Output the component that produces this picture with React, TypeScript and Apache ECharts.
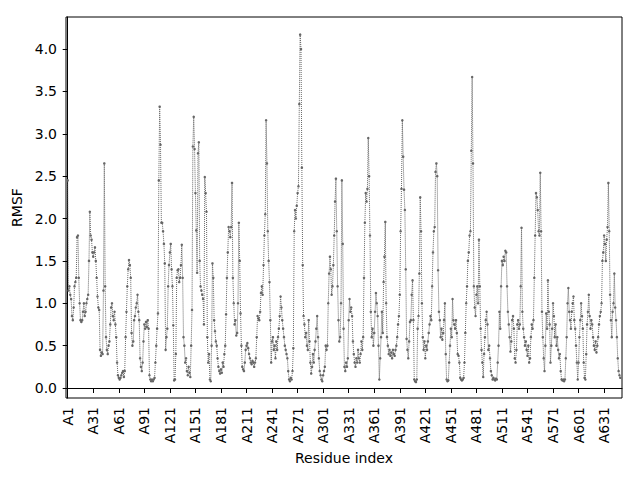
import React, { useEffect, useRef } from "react";
import * as echarts from "echarts";

// RMSF per residue (residues A1..A650)
const rmsfA1to130 = [
  2.45, 1.15, 1.2, 1.1, 1.05, 0.85, 0.8, 0.95, 1.2, 1.25,
  1.3, 1.78, 1.8, 1.3, 1.0, 0.8, 0.78, 0.8, 0.9, 1.0,
  0.85, 0.9, 1.0, 1.05, 1.1, 1.5, 2.08, 1.8, 1.75, 1.6,
  1.55, 1.6, 1.66, 1.5, 1.3, 1.08, 0.95, 0.92, 0.45, 0.38,
  0.42, 0.4, 1.15, 2.65, 1.2, 0.6, 0.45, 0.4, 0.5, 0.55,
  0.75, 0.95, 1.0, 0.85, 0.8, 0.9, 0.75, 0.6, 0.3, 0.15,
  0.12, 0.1, 0.12, 0.15, 0.18, 0.2, 0.13, 0.2, 0.6, 0.9,
  1.2, 1.4, 1.51, 1.45, 1.3, 0.65, 0.5, 0.55, 0.8, 0.85,
  0.95, 1.0, 1.1, 0.9, 0.8, 0.35, 0.25, 0.2, 0.3, 0.55,
  0.75, 0.7, 0.78, 0.72, 0.8, 0.7, 0.15, 0.1, 0.08, 0.1,
  0.08, 0.1, 0.12, 0.3, 0.5, 0.7, 0.88, 2.45, 3.32, 2.87,
  1.95, 1.95, 1.85, 1.7, 1.47, 0.45, 0.6, 0.7, 1.2, 1.45,
  1.6, 1.7, 1.4, 1.2, 0.74, 0.09, 0.1, 0.4, 1.3, 1.39,
];
const rmsfA131to260 = [
  1.4, 1.25, 1.3, 1.45, 1.69, 1.3, 0.6, 0.5, 0.3, 0.35,
  0.2, 0.15, 0.25, 0.18, 0.13, 0.5, 0.92, 2.85, 3.2, 2.82,
  2.3, 1.86, 1.36, 2.77, 2.9, 1.5, 1.2, 1.15, 1.1, 1.05,
  0.75, 2.49, 2.3, 2.08, 0.6, 0.3, 0.4, 0.1, 0.08, 0.5,
  1.47, 1.3, 0.8, 0.67, 0.55, 0.5, 0.35, 0.25, 0.2, 0.17,
  0.22, 0.18, 0.3, 0.25, 0.4, 0.5, 0.87, 1.3, 1.6, 1.9,
  1.85, 1.78, 1.9, 2.42, 1.3, 1.0, 0.75, 0.8, 0.62, 0.65,
  1.0, 1.95, 1.5, 0.88, 0.5, 0.25, 0.22, 0.2, 0.3, 0.45,
  0.5, 0.53, 0.47, 0.4, 0.35, 0.3, 0.28, 0.32, 0.3, 0.25,
  0.3, 0.35, 0.6, 0.85, 0.82, 0.8, 0.9, 1.12, 1.2, 1.1,
  1.45, 1.8, 2.05, 3.16, 2.65, 1.85, 1.5, 1.25, 0.8, 0.3,
  0.55, 0.6, 0.45, 0.5, 0.35, 0.55, 0.45, 0.6, 0.7, 0.85,
  1.08, 0.95, 0.8, 0.7, 0.6, 0.5, 0.45, 0.4, 0.35, 0.2,
];
const rmsfA261to390 = [
  0.1, 0.08, 0.12, 0.1, 0.2, 0.47, 1.85, 2.1, 2.0, 2.15,
  2.3, 2.38, 3.35, 4.17, 4.0, 2.6, 1.45, 0.85, 0.75, 0.6,
  0.65, 0.5, 0.45, 0.8, 0.55, 0.3, 0.17, 0.25, 0.4, 0.3,
  0.45, 0.55, 0.7, 0.85, 0.6, 0.35, 0.2, 0.15, 0.1, 0.08,
  0.15, 0.2, 0.25, 0.5, 0.45, 0.5, 1.0, 1.35, 1.55, 1.4,
  1.1, 1.2, 1.45, 1.8, 2.2, 2.47, 1.85, 1.2, 0.8, 0.55,
  0.6, 1.0, 2.45, 1.7, 0.7, 0.25, 0.2, 0.3, 0.25, 0.35,
  0.8, 1.05, 0.9, 0.95, 0.85, 0.55, 0.4, 0.3, 0.25, 0.35,
  0.3, 0.45, 0.35, 0.3, 0.4, 0.55, 0.45, 0.6, 1.3, 1.95,
  2.3, 2.2, 2.35, 2.95, 2.5, 1.8, 0.9, 0.6, 0.7, 0.5,
  0.65, 0.9, 1.12, 1.0, 0.85, 0.5, 0.1, 0.35, 0.6, 0.9,
  0.65, 1.25, 1.55, 1.96, 1.0, 0.6, 0.5, 0.4, 0.45, 0.38,
  0.42, 0.35, 0.45, 0.4, 0.38, 0.45, 0.5, 0.6, 0.75, 0.85,
];
const rmsfA391to520 = [
  1.1, 1.85, 2.35, 3.16, 2.73, 2.34, 2.1, 1.4, 0.58, 0.45,
  0.35, 0.55, 0.78, 0.8, 1.1, 1.27, 0.8, 0.1, 0.08, 0.07,
  0.1, 0.7, 0.85, 1.35, 2.25, 1.85, 1.0, 0.6, 0.45, 0.55,
  0.35, 0.5, 0.45, 0.55, 0.65, 0.75, 0.85, 0.8, 1.2, 1.6,
  1.85, 1.9, 2.55, 2.65, 2.5, 1.39, 0.9, 0.8, 0.6, 0.7,
  0.57, 0.65, 0.8, 1.0, 0.4, 0.1, 0.08, 0.09, 0.3, 0.5,
  0.7, 0.6, 1.05, 0.8, 0.75, 0.7, 0.8, 0.65, 0.4, 0.38,
  0.3, 0.12, 0.1, 0.09, 0.1, 0.12, 0.3, 0.65, 1.0, 1.2,
  1.5, 1.6, 1.8, 1.85, 2.8, 3.67, 2.65, 1.2, 0.95, 0.85,
  1.1, 1.2, 1.0, 1.75, 1.2, 0.7, 0.45, 0.3, 0.13, 0.4,
  0.6, 0.8, 0.9, 0.75, 0.45, 0.5, 0.35, 0.2, 0.15, 0.1,
  0.12, 0.1, 0.09, 0.11, 0.1, 0.3, 0.5, 0.9, 0.7, 1.2,
  1.5, 1.45, 1.55, 1.5, 1.62, 1.6, 1.2, 0.9, 0.75, 0.6,
];
const rmsfA521to650 = [
  0.43, 0.55, 0.8, 0.85, 0.7, 0.35, 0.3, 0.45, 0.75, 0.8,
  0.7, 0.75, 1.2, 1.89, 0.9, 0.7, 0.6, 0.5, 0.55, 0.45,
  0.38, 0.5, 0.3, 0.35, 0.6, 0.75, 0.7, 0.8, 1.3, 1.8,
  2.3, 2.25, 2.1, 1.85, 1.8, 2.54, 1.85, 0.9, 0.6, 0.35,
  0.2, 0.5, 0.88, 0.7, 1.27, 0.9, 0.75, 0.3, 0.5, 0.7,
  1.0, 0.85, 0.6, 0.75, 0.5, 0.6, 0.45, 0.35, 0.4, 0.2,
  0.1, 0.09, 0.1, 0.08, 0.1, 0.35, 0.6, 1.0, 1.18, 0.9,
  0.8, 0.7, 0.9, 1.0, 1.08, 0.8, 0.7, 0.5, 0.3, 0.1,
  0.3, 0.6, 0.8, 1.0, 0.85, 0.7, 0.3, 0.12, 0.1, 0.4,
  0.75, 0.9, 1.1, 0.85, 0.7, 0.8, 0.75, 0.6, 0.5, 0.45,
  0.55, 0.42, 0.5, 0.6, 0.75, 0.85, 0.9, 1.0, 1.5, 1.6,
  1.8, 1.7, 1.5, 1.75, 1.9, 2.42, 1.85, 1.1, 0.8, 0.6,
  0.9, 1.0, 1.35, 0.95, 0.8, 0.6, 0.35, 0.2, 0.15, 0.12,
];

const rmsf = [
  ...rmsfA1to130,
  ...rmsfA131to260,
  ...rmsfA261to390,
  ...rmsfA391to520,
  ...rmsfA521to650,
];
// residue index (0-based position) -> label "A{n}"
const residueLabel = (i: number) => `A${i + 1}`;
const xTicks = [0, 30, 60, 90, 120, 150, 180, 210, 240, 270, 300, 330, 360, 390, 420, 450, 480, 510, 540, 570, 600, 630];
const yTicks = [0, 0.5, 1, 1.5, 2, 2.5, 3, 3.5, 4];
const xMin = -2;
const xMax = 651;
const yMin = -0.118;
const yMax = 4.378;

const FONT = "DejaVu Sans";

export default function App() {
  const ref = useRef<HTMLDivElement>(null);
  useEffect(() => {
    if (!ref.current) return;
    const chart = echarts.init(ref.current, null, { renderer: "svg" });
    const points = rmsf.map((v, i) => [i, v]);
    chart.setOption({
      animation: false,
      backgroundColor: "#ffffff",
      grid: {
        left: 66,
        right: 18,
        top: 17,
        bottom: 82,
        show: true,
        borderColor: "#000000",
        borderWidth: 1,
        backgroundColor: "transparent",
      },
      xAxis: {
        type: "value",
        min: xMin,
        max: xMax,
        name: "Residue index",
        nameLocation: "middle",
        nameGap: 50,
        nameTextStyle: { fontFamily: FONT, fontSize: 14, color: "#000" },
        axisLine: { show: true, lineStyle: { color: "#000", width: 1 } },
        axisTick: {
          show: true,
          customValues: xTicks,
          length: 5,
          lineStyle: { color: "#000", width: 1 },
        },
        axisLabel: {
          customValues: xTicks,
          formatter: (v: number) => residueLabel(v),
          rotate: 90,
          margin: 9,
          fontFamily: FONT,
          fontSize: 14,
          color: "#000",
        },
        splitLine: { show: false },
      },
      yAxis: {
        type: "value",
        min: yMin,
        max: yMax,
        name: "RMSF",
        nameLocation: "middle",
        nameGap: 34,
        nameTextStyle: { fontFamily: FONT, fontSize: 14, color: "#000" },
        axisLine: { show: true, lineStyle: { color: "#000", width: 1 } },
        axisTick: {
          show: true,
          customValues: yTicks,
          length: 5,
          lineStyle: { color: "#000", width: 1 },
        },
        axisLabel: {
          customValues: yTicks,
          formatter: (v: number) => v.toFixed(1),
          margin: 9,
          fontFamily: FONT,
          fontSize: 14,
          color: "#000",
        },
        splitLine: { show: false },
      },
      series: [
        {
          type: "line",
          data: points,
          symbol: "circle",
          symbolSize: 2.5,
          showSymbol: true,
          showAllSymbol: true,
          lineStyle: { type: "dotted", width: 1, color: "#666666" },
          itemStyle: { color: "#666666" },
        },
      ],
    });
    return () => chart.dispose();
  }, []);
  return (
    <div
      ref={ref}
      style={{ position: "fixed", left: 0, top: 0, width: 640, height: 480 }}
    />
  );
}
